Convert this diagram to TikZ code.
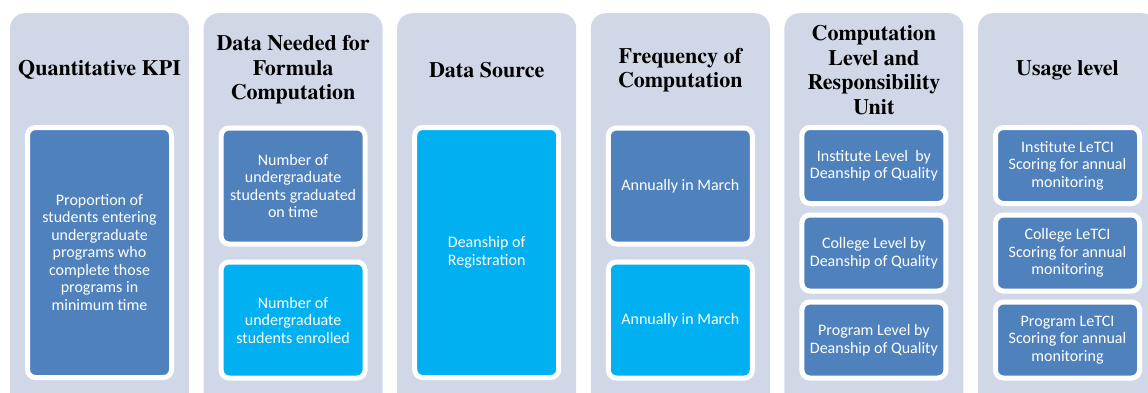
\documentclass[tikz,border=0pt]{standalone}
\usepackage{fontspec}
\newfontfamily\headfont{texgyretermes-bold.otf}
\newfontfamily\bodyfont{Carlito}
\usepackage{tikz}
\usetikzlibrary{positioning}
\definecolor{panelgray}{RGB}{208,216,232}
\definecolor{kpiblue}{RGB}{79,129,189}
\definecolor{kpicyan}{RGB}{0,176,240}
\tikzset{
  panel/.style={fill=panelgray, rounded corners=15pt, anchor=north,
    minimum width=179pt, minimum height=400pt, inner sep=0pt},
  header/.style={align=center, text=black,
    font=\headfont\fontsize{22}{24.5}\selectfont},
  item/.style={draw=white, line width=5pt, rounded corners=8pt, text=white,
    align=center, inner sep=0pt, minimum width=144pt,
    font=\bodyfont\fontsize{16}{17.5}\selectfont},
  darkitem/.style={item, fill=kpiblue},
  cyanitem/.style={item, fill=kpicyan}
}

\begin{document}
\begin{tikzpicture}[x=1pt, y=-1pt]
    \useasboundingbox (0,0) rectangle (1148,392);
    \clip (0,0) rectangle (1148,392);
    %% Columns
    \foreach \i in {0,...,5}
        \node [panel] (col\i) at (99.5+193.6*\i, 13) {};
    %% Headers
    \node [header] (kpiHead) at (99.5, 70) {Quantitative KPI};
    \node [header] (dataHead) at (293.1, 70) {Data Needed for\\Formula\\Computation};
    \node [header] (srcHead) at (486.7, 70) {Data Source};
    \node [header] (freqHead) at (680.3, 70) {Frequency of\\Computation};
    \node [header] (levelHead) at (873.9, 70) {Computation\\Level and\\Responsibility\\Unit};
    \node [header] (usageHead) at (1067.5, 70) {Usage level};
    %% Items
    \node [darkitem, minimum height=250pt] (kpi) at (99.5, 252.5)
        {Proportion of\\students entering\\undergraduate\\programs who\\complete those\\programs in\\minimum time};
    \node [darkitem, minimum height=116pt] (graduated) at (293.1, 186)
        {Number of\\undergraduate\\students graduated\\on time};
    \node [cyanitem, minimum height=116pt] (enrolled) at (293.1, 320)
        {Number of\\undergraduate\\students enrolled};
    \node [cyanitem, minimum height=250pt] (registration) at (486.7, 252.5)
        {Deanship of\\Registration};
    \node [darkitem, minimum height=116pt] (freqTop) at (680.3, 186) {Annually in March};
    \node [cyanitem, minimum height=116pt] (freqBottom) at (680.3, 320) {Annually in March};
    \node [darkitem, minimum height=76pt] (instLevel) at (873.9, 165.5)
        {Institute Level~ by\\Deanship of Quality};
    \node [darkitem, minimum height=76pt] (collLevel) at (873.9, 253)
        {College Level by\\Deanship of Quality};
    \node [darkitem, minimum height=76pt] (progLevel) at (873.9, 340)
        {Program Level by\\Deanship of Quality};
    \node [darkitem, minimum height=76pt] (instUse) at (1067.5, 165.5)
        {Institute LeTCI\\Scoring for annual\\monitoring};
    \node [darkitem, minimum height=76pt] (collUse) at (1067.5, 253)
        {College LeTCI\\Scoring for annual\\monitoring};
    \node [darkitem, minimum height=76pt] (progUse) at (1067.5, 340)
        {Program LeTCI\\Scoring for annual\\monitoring};
\end{tikzpicture}
\end{document}
